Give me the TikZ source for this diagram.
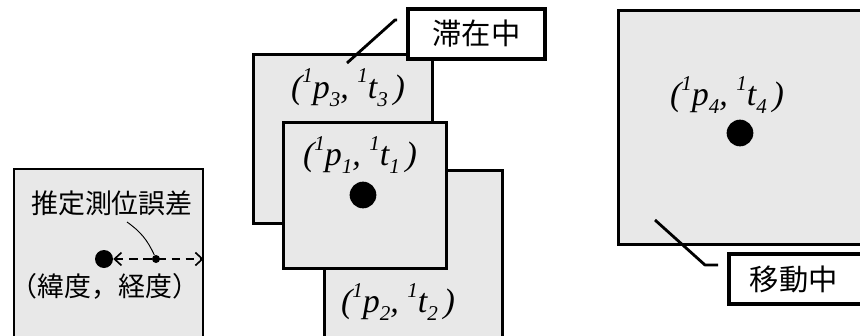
\documentclass[tikz,border=0pt]{standalone}
\usepackage{fontspec}
\setmainfont{Liberation Serif}
\newfontfamily\jpfont{Noto Sans CJK JP}
\usetikzlibrary{arrows.meta}
\definecolor{paneGray}{RGB}{232,232,232}
\newcommand\pairlabel[1]{(\raisebox{0.45em}{\scalebox{0.62}{1}}p\raisebox{-0.25em}{\scalebox{0.62}{#1}},\ \raisebox{0.45em}{\scalebox{0.62}{1}}t\raisebox{-0.25em}{\scalebox{0.62}{#1}}\,)}

\begin{document}
\begin{tikzpicture}[x=0.03cm, y=-0.03cm,
        pane/.style = {draw=black, line width=2.3pt, fill=paneGray, anchor=north west, inner sep=0pt},
        tag/.style = {draw=black, line width=3.2pt, fill=white, inner sep=0pt, font=\jpfont\fontsize{25}{30}\selectfont},
        pair/.style = {font=\itshape\fontsize{29}{34}\selectfont, inner sep=0pt},
        jptext/.style = {font=\jpfont\fontsize{23}{28}\selectfont, inner sep=0pt},
        spot/.style = {circle, fill=black, inner sep=0pt},
        leader/.style = {line width=2.4pt, line join=round}
    ]
    \clip (0,0) rectangle (860,336);
    % ================= LEFT: ONE FIX =================
    \node[pane, line width=1.4pt, minimum width=5.67cm, minimum height=5.6cm] (fixPane) at (13,168) {};
    \node[jptext] (errText) at (112,203) {推定測位誤差};
    \node[jptext] (latlon) at (105,286) {（緯度，経度）};
    \node[spot, minimum size=0.54cm] (fixDot) at (104,259) {};
    \node[spot, minimum size=0.24cm] (errDot) at (156,259) {};
    %
    \draw[line width=1.4pt, dash pattern=on 7pt off 5pt, {Straight Barb[length=6pt,width=11pt]}-{Straight Barb[length=6pt,width=11pt]}]
        (fixDot.east) -- (fixDot -| fixPane.east);
    \draw[line width=0.8pt] (127,222) to[bend left=15] (errDot);

    % ================= MIDDLE: STAYING =================
    \node[pane, minimum width=5.37cm, minimum height=5.07cm] (pane3) at (252,53) {};
    \node[pane, minimum width=5.34cm, minimum height=5.6cm] (pane2) at (323,169) {};
    \node[pane, minimum width=4.89cm, minimum height=4.38cm] (pane1) at (282,121) {};
    %
    \node[pair] (pair3) at (348,88) {\pairlabel{3}};
    \node[pair] (pair1) at (360,155) {\pairlabel{1}};
    \node[pair] (pair2) at (398,302) {\pairlabel{2}};
    \node[spot, minimum size=0.8cm] (stayDot) at (363,195) {};
    %
    \node[tag, minimum width=4.11cm, minimum height=1.5cm] (tagStay) at (476.5,34) {滞在中};
    \coordinate (stayEnd) at (347,63);
    \coordinate (stayBend) at (395,20);
    \draw[leader, shorten >=0.27cm] (stayEnd) -- (stayBend) -- (tagStay.west |- stayBend);

    % ================= RIGHT: MOVING =================
    \node[pane, minimum width=7.9cm, minimum height=7.02cm] (pane4) at (617,9) {};
    \node[pair] (pair4) at (727,95) {\pairlabel{4}};
    \node[spot, minimum size=0.8cm] (moveDot) at (740,133) {};
    %
    \node[tag, anchor=west, minimum height=1.5cm, text width=3.6cm, align=left, inner xsep=0.63cm] (tagMove) at (727,279) {移動中};
    \coordinate (moveEnd) at (655,220);
    \coordinate (moveBend) at (705,265);
    \draw[leader, shorten >=0.27cm] (moveEnd) -- (moveBend) -- (tagMove.west |- moveBend);
\end{tikzpicture}
\end{document}
